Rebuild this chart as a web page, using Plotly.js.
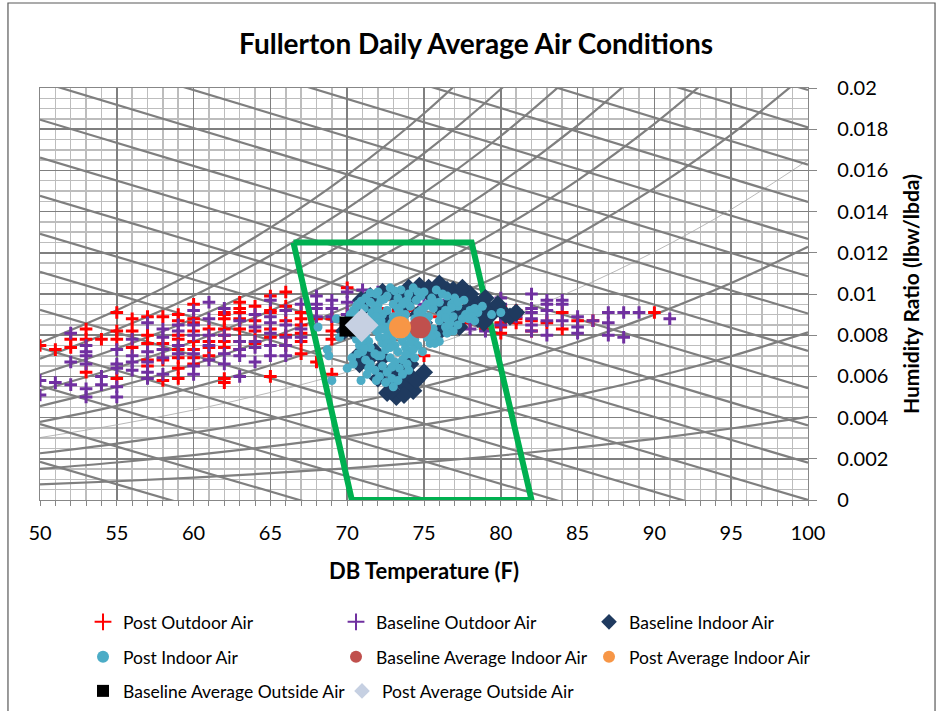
<!DOCTYPE html>
<html><head><meta charset="utf-8">
<script src="https://cdn.plot.ly/plotly-3.0.1.min.js"></script>
<style>html,body{margin:0;padding:0;background:#fff}#chart{width:938px;height:711px}</style>
</head><body><div id="chart"></div>
<script>
const chartTitle = 'Fullerton Daily Average Air Conditions';
const xTitle = 'DB Temperature (F)';
const yTitle = 'Humidity Ratio (lbw/lbda)';

// Psychrometric background: relative humidity curves (W read at dry-bulb temps)
const rhTemps = [50,55,60,65,70,75,80,85,90,95,100];
const rh10 = [0.00076,0.00091,0.00109,0.00130,0.00154,0.00183,0.00216,0.00254,0.00297,0.00347,0.00404];
const rh20 = [0.00151,0.00182,0.00218,0.00260,0.00309,0.00366,0.00433,0.00509,0.00597,0.00698,0.00814];
const rh30 = [0.00227,0.00274,0.00327,0.00391,0.00465,0.00551,0.00651,0.00767,0.00900,0.01053,0.01229];
const rh40 = [0.00303,0.00365,0.00437,0.00522,0.00621,0.00737,0.00871,0.01026,0.01205,0.01411,0.01650];
const rh50 = [0.00379,0.00457,0.00547,0.00654,0.00779,0.00924,0.01093,0.01288,0.01514,0.01774,0.02076];
const rh60 = [0.00456,0.00549,0.00658,0.00786,0.00937,0.01112,0.01316,0.01552,0.01826,0.02141];
const rh70 = [0.00532,0.00642,0.00769,0.00919,0.01095,0.01301,0.01541,0.01819,0.02141];
const rh80 = [0.00609,0.00735,0.00880,0.01053,0.01255,0.01491,0.01767,0.02087];
const rh90 = [0.00686,0.00828,0.00992,0.01187,0.01416,0.01683,0.01995,0.02358];
const rh100 = [0.00763,0.00921,0.01105,0.01322,0.01577,0.01876,0.02225];

// Enthalpy lines (Btu/lb): W at 50 F and at 100 F
const enthalpyT = [50,100];
const enthalpyLevels = [14,16,18,20,22,24,26,28,30,32,34,36,38,40,42,44,46];
const enthalpyW50 = [0.00185,0.00369,0.00554,0.00739,0.00923,0.01108,0.01292,0.01477,0.01662,0.01846,0.02031,0.02216,0.02400,0.02585,0.02770,0.02954,0.03139];
const enthalpyW100 = [-0.00905,-0.00724,-0.00543,-0.00362,-0.00181,0,0.00181,0.00362,0.00543,0.00724,0.00905,0.01086,0.01267,0.01447,0.01628,0.01809,0.01990];

// Comfort zone outline
const comfortT = [66.5,78.1,82.0,70.3,66.5];
const comfortW = [0.0125,0.0125,0,0,0.0125];

// Post Outdoor Air
const postOutdoorT = [50,51,52,52,53,53,53,54,55,55,55,55,56,56,56,57,57,57,57,57,58,58,58,58,
 59,59,59,59,59,59,59,59,60,60,60,60,60,60,60,60,61,61,61,61,62,62,62,62,62,62,62,62,62,
 63,63,63,63,63,63,63,64,64,64,64,65,65,65,65,65,65,66,66,66,66,66,67,67,67,67,67,67,68,68,
 69,69,69,69,70,70,71,71,72,72,73,74,75,75,76,77,78,78,79,79,80,80,80,80,81,81,81,81,82,82,83,84,84,85,86,90];
const postOutdoorW = [0.0075,0.0073,0.0078,0.0074,0.0083,0.0078,0.0062,0.0078,0.0091,0.0082,0.0078,0.0059,0.0088,0.0082,0.0074,0.0089,0.0080,0.0076,0.0068,0.0065,0.0089,0.0076,0.0068,0.0058,
 0.0090,0.0087,0.0080,0.0078,0.0073,0.0069,0.0064,0.0059,0.0095,0.0088,0.0086,0.0082,0.0077,0.0073,0.0069,0.0066,0.0083,0.0077,0.0074,0.0070,0.0091,0.0090,0.0088,0.0083,0.0080,0.0077,0.0074,0.0059,0.0057,
 0.0096,0.0093,0.0091,0.0088,0.0083,0.0077,0.0073,0.0094,0.0087,0.0082,0.0076,0.0099,0.0092,0.0091,0.0083,0.0079,0.0060,0.0101,0.0094,0.0087,0.0080,0.0075,0.0091,0.0088,0.0085,0.0081,0.0077,0.0071,0.0088,0.0067,
 0.0088,0.0082,0.0078,0.0061,0.0103,0.0090,0.0095,0.0088,0.0093,0.0087,0.0090,0.0092,0.0088,0.0070,0.0089,0.0091,0.0090,0.0086,0.0087,0.0083,0.0094,0.0086,0.0084,0.0081,0.0092,0.0090,0.0088,0.0086,0.0087,0.0082,0.0086,0.0091,0.0083,0.0087,0.0087,0.0091];

// Baseline Outdoor Air
const baseOutdoorT = [50,50,51,52,52,52,53,53,53,53,53,53,54,54,55,55,55,55,55,56,56,56,56,57,57,57,57,57,58,58,58,58,58,
 59,59,59,59,60,60,60,60,60,60,61,61,61,61,61,62,62,62,62,63,63,63,63,63,64,64,64,64,64,65,65,65,65,65,65,66,66,66,66,66,
 67,67,67,68,68,68,68,69,69,69,70,70,70,71,71,72,72,73,74,75,76,77,78,78,79,79,80,80,80,80,81,82,82,82,82,82,82,
 83,83,83,83,83,84,84,84,85,85,85,86,87,87,87,88,88,89,91];
const baseOutdoorW = [0.0058,0.0051,0.0057,0.0081,0.0067,0.0056,0.0075,0.0072,0.0070,0.0066,0.0054,0.0050,0.0060,0.0056,0.0073,0.0066,0.0064,0.0055,0.0050,0.0078,0.0070,0.0067,0.0063,0.0086,0.0072,0.0067,0.0062,0.0059,0.0083,0.0079,0.0073,0.0069,0.0061,
 0.0085,0.0082,0.0075,0.0071,0.0092,0.0085,0.0080,0.0071,0.0065,0.0061,0.0096,0.0088,0.0080,0.0075,0.0068,0.0093,0.0080,0.0071,0.0066,0.0087,0.0077,0.0073,0.0070,0.0060,0.0090,0.0084,0.0077,0.0074,0.0067,0.0097,0.0089,0.0086,0.0081,0.0075,0.0070,0.0092,0.0085,0.0079,0.0075,0.0070,
 0.0095,0.0083,0.0079,0.0099,0.0095,0.0093,0.0089,0.0097,0.0093,0.0089,0.0101,0.0096,0.0090,0.0102,0.0094,0.0101,0.0089,0.0100,0.0099,0.0095,0.0097,0.0094,0.0088,0.0083,0.0085,0.0082,0.0098,0.0095,0.0090,0.0085,0.0089,0.0100,0.0093,0.0091,0.0088,0.0085,0.0082,
 0.0097,0.0095,0.0092,0.0087,0.0080,0.0097,0.0095,0.0087,0.0089,0.0084,0.0081,0.0087,0.0091,0.0086,0.0080,0.0091,0.0079,0.0091,0.0088];

// Baseline Indoor Air
const baseIndoorT = [70.9,71.5,72.3,73.0,74.7,75.3,75.9,76.5,76.9,77.4,77.8,78.2,78.6,79.0,79.5,80.0,80.3,79.2,78.5,77.0,77.5,76.3,75.8,76.8,75.5,74.0,73.5,74.6,75.6,76.2,77.3,75.0,72.5,71.2,70.5,69.8,
 70.8,71.8,72.2,72.8,73.5,74.1,74.3,73.2,72.6,73.8,72.9,74.0,73.4,72.3,78.9,78.0,77.1,74.2,73.6,
 79.8,80.6,81.0,78.0,79.0,77.5,76.0,74.0,72.0,71.0,70.4,70.8,71.5,74.5,72.0,75.0,73.7,72.9];
const baseIndoorW = [0.0097,0.0099,0.0101,0.0100,0.0104,0.0103,0.0104,0.0102,0.0102,0.0100,0.0099,0.0097,0.0092,0.0094,0.0091,0.0092,0.0090,0.0089,0.0088,0.0087,0.0090,0.0091,0.0095,0.0096,0.0099,0.0097,0.0093,0.0090,0.0079,0.0083,0.0084,0.0086,0.0088,0.0085,0.0081,0.0082,
 0.0066,0.0072,0.0064,0.0062,0.0059,0.0066,0.0053,0.0050,0.0052,0.0055,0.0057,0.0061,0.0064,0.0069,0.0086,0.0094,0.0092,0.0101,0.0099,
 0.0095,0.0089,0.0091,0.0100,0.0098,0.0103,0.0105,0.0103,0.0099,0.0093,0.0089,0.0071,0.0069,0.0058,0.0059,0.0062,0.0051,0.0053];

// Post Indoor Air
const postIndoorT = [72.0,72.8,73.5,74.3,75.0,75.8, 71.2,71.9,72.6,73.3,74.0,74.8,75.5,76.2,77.0, 70.7,71.5,72.2,73.0,73.7,74.5,75.2,76.0,76.8,77.6,
 70.4,71.1,71.8,72.6,73.3,74.1,74.8,75.6,76.4,77.2,78.0, 70.2,70.9,71.6,72.3,73.0,73.8,74.6,75.3,76.1,76.9,77.7,78.5,79.4,
 70.0,70.8,71.5,72.2,72.9,73.7,74.4,75.2,76.0,76.7,77.5,78.3, 70.3,71.0,71.7,72.5,73.2,74.0,74.8,75.6,76.4,77.2,
 70.5,71.2,71.9,72.7,73.4,74.2,75.0,75.8,76.5, 70.6,71.4,72.1,72.9,73.6,74.4,75.2,76.0, 70.8,71.5,72.3,73.1,73.8,74.6,75.4,
 71.0,71.8,72.5,73.3,74.1,74.9, 70.3,71.2,72.0,72.8,73.6,74.4, 71.5,72.3,73.1,73.9, 71.8,72.6,73.4,74.0, 72.1,72.9,73.6, 72.5,73.3,
 68.8,68.7,69.0,68.1,70.9,69.5,80.0,69.3,78.8,70.0,
 71.5,73.1,74.6,76.5,70.9,72.4,73.9,75.6,77.2,70.6,72.0,73.6,75.1,76.8,78.3,70.5,72.0,73.4,74.9,76.5,78.1,70.4,71.9,73.3,74.9,76.4,77.9,
 70.6,72.0,73.5,75.0,76.6,70.8,72.3,73.8,75.4,76.9,70.9,72.5,74.0,75.5,71.0,72.6,74.1,75.7,71.1,72.8,74.3,70.7,72.2,73.8,71.4,72.9,71.9,73.0,71.3,70.4];
const postIndoorW = [0.0101,0.0103,0.0102,0.0103,0.0101,0.0102, 0.0098,0.0100,0.0099,0.0098,0.0100,0.0099,0.0098,0.0100,0.0098, 0.0095,0.0096,0.0097,0.0095,0.0096,0.0097,0.0095,0.0096,0.0095,0.0097,
 0.0092,0.0093,0.0094,0.0092,0.0093,0.0094,0.0092,0.0093,0.0092,0.0094,0.0092, 0.0090,0.0089,0.0091,0.0090,0.0089,0.0090,0.0091,0.0089,0.0090,0.0089,0.0090,0.0091,0.0090,
 0.0087,0.0086,0.0088,0.0087,0.0086,0.0087,0.0088,0.0086,0.0087,0.0086,0.0088,0.0087, 0.0084,0.0083,0.0085,0.0084,0.0083,0.0084,0.0085,0.0083,0.0084,0.0085,
 0.0081,0.0080,0.0082,0.0081,0.0080,0.0081,0.0082,0.0080,0.0081, 0.0078,0.0077,0.0079,0.0078,0.0077,0.0078,0.0079,0.0077, 0.0075,0.0074,0.0076,0.0075,0.0074,0.0075,0.0076,
 0.0072,0.0071,0.0073,0.0072,0.0071,0.0072, 0.0069,0.0068,0.0070,0.0069,0.0068,0.0069, 0.0066,0.0065,0.0067,0.0066, 0.0063,0.0062,0.0064,0.0063, 0.0060,0.0059,0.0061, 0.0057,0.0058,
 0.0070,0.0073,0.0058,0.0084,0.0058,0.0079,0.0091,0.0088,0.0094,0.0064,
 0.01005,0.01015,0.0101,0.0099,0.00965,0.00975,0.0097,0.00965,0.0096,0.0094,0.00945,0.0095,0.0094,0.00935,0.0093,0.0091,0.0092,0.00915,0.0092,0.00915,0.0089,0.00885,0.0089,0.00885,0.0089,0.00885,0.0088,
 0.00855,0.0086,0.00855,0.0086,0.0085,0.00825,0.0083,0.00825,0.0082,0.0082,0.00795,0.0079,0.00795,0.0079,0.00765,0.0076,0.00765,0.0076,0.00735,0.0074,0.0073,0.0071,0.0070,0.00705,0.0064,0.00645,0.0058,0.0055,0.0061,0.0066];

// Averages
const baseAvgIndoorT = [74.74], baseAvgIndoorW = [0.00838];
const postAvgIndoorT = [73.44], postAvgIndoorW = [0.00838];
const baseAvgOutsideT = [70.15], baseAvgOutsideW = [0.00842];
const postAvgOutsideT = [70.94], postAvgOutsideW = [0.00848];

const psychColor = '#7f7f7f';
const traces = [];
const rhSets = [rh10,rh20,rh30,rh40,rh50,rh60,rh70,rh80,rh90,rh100];
rhSets.forEach((w, i) => {
  traces.push({x: rhTemps.slice(0, w.length), y: w, mode:'lines', type:'scatter', showlegend:false, hoverinfo:'skip',
    line:{color: i === 3 ? '#a6a6a6' : psychColor, width: i === 3 ? 0.8 : 2.2, shape:'spline'}});
});
enthalpyLevels.forEach((h, i) => {
  traces.push({x: enthalpyT, y:[enthalpyW50[i], enthalpyW100[i]], mode:'lines', type:'scatter', showlegend:false, hoverinfo:'skip',
    line:{color: psychColor, width: 2.2}});
});

traces.push({name:'Post Outdoor Air', x: postOutdoorT, y: postOutdoorW, mode:'markers', type:'scatter', legend:'legend',
  marker:{symbol:'cross-thin', size:9, color:'#ff0000', line:{color:'#ff0000', width:3}}});
traces.push({name:'Baseline Outdoor Air', x: baseOutdoorT, y: baseOutdoorW, mode:'markers', type:'scatter', legend:'legend',
  marker:{symbol:'cross-thin', size:9, color:'#7030a0', line:{color:'#7030a0', width:3}}});
traces.push({x: comfortT, y: comfortW, mode:'lines', type:'scatter', showlegend:false, hoverinfo:'skip',
  line:{color:'#00b050', width:6}});
traces.push({name:'Baseline Indoor Air', x: baseIndoorT, y: baseIndoorW, mode:'markers', type:'scatter', legend:'legend',
  marker:{symbol:'diamond', size:14, color:'#1f3a5f'}});
traces.push({name:'Post Indoor Air', x: postIndoorT, y: postIndoorW, mode:'markers', type:'scatter', legend:'legend2',
  marker:{symbol:'circle', size:9, color:'#4bacc6'}});
traces.push({name:'Baseline Average Indoor Air', x: baseAvgIndoorT, y: baseAvgIndoorW, mode:'markers', type:'scatter', legend:'legend2',
  marker:{symbol:'circle', size:22, color:'#c0504d'}});
traces.push({name:'Post Average Indoor Air', x: postAvgIndoorT, y: postAvgIndoorW, mode:'markers', type:'scatter', legend:'legend2',
  marker:{symbol:'circle', size:22, color:'#f79646'}});
traces.push({name:'Baseline Average Outside Air', x: baseAvgOutsideT, y: baseAvgOutsideW, mode:'markers', type:'scatter', legend:'legend3',
  marker:{symbol:'square', size:20, color:'#000000'}});
traces.push({name:'Post Average Outside Air', x: postAvgOutsideT, y: postAvgOutsideW, mode:'markers', type:'scatter', legend:'legend3',
  marker:{symbol:'diamond', size:26, color:'#c6d0e2'}});

const fontFam = 'Lato, "Open Sans", Arial, sans-serif';
const legendBase = {orientation:'h', xanchor:'left', yanchor:'middle', x:0.056, entrywidth:208, entrywidthmode:'pixels',
  font:{size:17.5, family:fontFam, color:'#000'}, itemsizing:'constant', bgcolor:'rgba(0,0,0,0)', borderwidth:0};

const layout = {
  width:938, height:711,
  margin:{l:40, r:130, t:88, b:211, autoexpand:false},
  paper_bgcolor:'#ffffff', plot_bgcolor:'#ffffff',
  font:{family:fontFam, color:'#000'},
  title:{text: chartTitle, font:{size:28, family:fontFam, weight:700, color:'#000'}, x:0.5075, xanchor:'center', y:0.938, yanchor:'middle'},
  xaxis:{range:[50,100], tick0:50, dtick:5, showgrid:true, gridcolor:'#7f7f7f', gridwidth:1.5,
    minor:{dtick:1, showgrid:true, gridcolor:'#bdbdbd', gridwidth:1.5, ticks:'outside', ticklen:5, tickcolor:'#878787'},
    ticks:'outside', ticklen:5, tickcolor:'#878787', showline:true, linecolor:'#878787', linewidth:1.3, mirror:true, zeroline:false,
    tickfont:{size:20, family:fontFam, color:'#000'}, ticklabelstandoff:10,
    title:{text:xTitle, font:{size:22, family:fontFam, weight:700, color:'#000'}, standoff:20}},
  yaxis:{range:[0,0.02], side:'right', tick0:0, dtick:0.002, showgrid:true, gridcolor:'#7f7f7f', gridwidth:1.5,
    minor:{dtick:0.0005, showgrid:true, gridcolor:'#bdbdbd', gridwidth:1.5},
    ticks:'outside', ticklen:8, tickcolor:'#878787', showline:true, linecolor:'#878787', linewidth:1.3, mirror:true, zeroline:false,
    tickfont:{size:20, family:fontFam, color:'#000'}, ticklabelstandoff:16,
    title:{text:yTitle, font:{size:21, family:fontFam, weight:700, color:'#000'}, standoff:16}},
  legend: Object.assign({}, legendBase, {y:-0.296}),
  legend2: Object.assign({}, legendBase, {y:-0.381}),
  legend3: Object.assign({}, legendBase, {y:-0.4636, entrywidth:214}),
  shapes:[{type:'rect', xref:'paper', yref:'paper', x0:-0.0417, x1:1.1654, y0:-0.53, y1:1.2063, layer:'below',
    line:{color:'#595959', width:1.2}, fillcolor:'rgba(0,0,0,0)'}],
  showlegend:true
};

Plotly.newPlot('chart', traces, layout, {displayModeBar:false, staticPlot:true});
</script>
</body></html>
